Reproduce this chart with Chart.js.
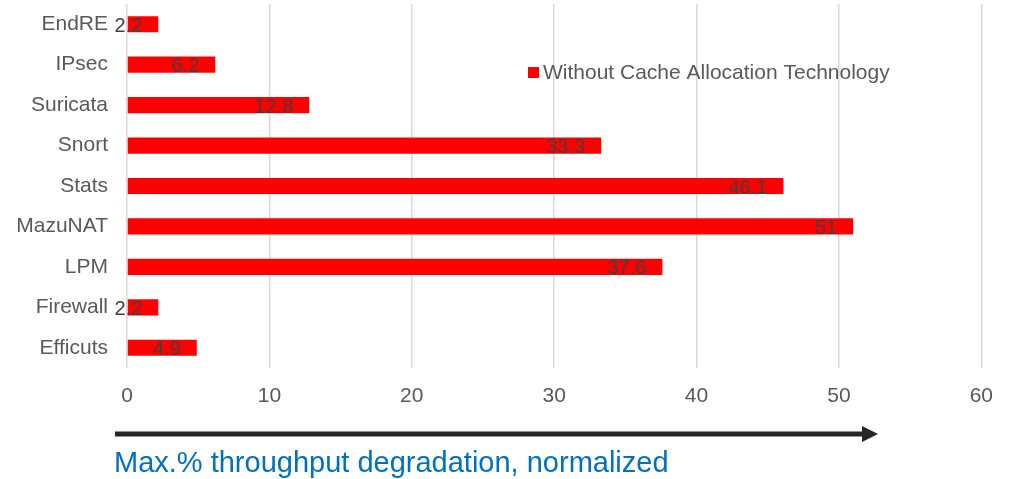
<!DOCTYPE html>
<html>
<head>
<meta charset="utf-8">
<script src="https://cdn.jsdelivr.net/npm/chart.js@4"></script>
<style>
  html, body { margin: 0; padding: 0; background: #fff; }
</style>
</head>
<body>
<canvas id="grafico" width="1009" height="479"></canvas>
<script>

//--------------------------------------------------
// DADOS
//--------------------------------------------------

const categorias = ['EndRE', 'IPsec', 'Suricata', 'Snort', 'Stats', 'MazuNAT', 'LPM', 'Firewall', 'Efficuts'];
const valores    = [2.2, 6.2, 12.8, 33.3, 46.1, 51, 37.6, 2.2, 4.9];
const rotuloSerie = 'Without Cache Allocation Technology';
const ticksX     = [0, 10, 20, 30, 40, 50, 60];
const tituloEixo = 'Max.% throughput degradation, normalized';

const FONTE = '"Liberation Sans", Arial, sans-serif';

//--------------------------------------------------
// PLUGIN: rótulos, legenda, seta e título
//--------------------------------------------------

const extras = {
  id: 'extras',
  afterDatasetsDraw(chart) {
    const { ctx } = chart;
    const meta = chart.getDatasetMeta(0);

    // rótulos de valor (inside end)
    ctx.save();
    ctx.font = '20px ' + FONTE;
    ctx.fillStyle = '#404040';
    ctx.textAlign = 'right';
    ctx.textBaseline = 'middle';
    meta.data.forEach((bar, i) => {
      ctx.fillText(String(valores[i]), bar.x - 16, bar.y + 2);
    });
    ctx.restore();
  },
  afterDraw(chart) {
    const { ctx } = chart;
    ctx.save();

    // legenda
    ctx.fillStyle = '#ff0000';
    ctx.fillRect(528, 67, 11, 11);
    ctx.font = '21px ' + FONTE;
    ctx.fillStyle = '#595959';
    ctx.textAlign = 'left';
    ctx.textBaseline = 'middle';
    ctx.fillText(chart.data.datasets[0].label, 543, 73);

    // seta
    ctx.strokeStyle = '#262626';
    ctx.fillStyle = '#262626';
    ctx.lineWidth = 5;
    ctx.beginPath();
    ctx.moveTo(115, 434);
    ctx.lineTo(864, 434);
    ctx.stroke();
    ctx.beginPath();
    ctx.moveTo(862, 426);
    ctx.lineTo(878, 434);
    ctx.lineTo(862, 442);
    ctx.closePath();
    ctx.fill();

    // título
    ctx.font = '29px ' + FONTE;
    ctx.fillStyle = '#0070c0';
    ctx.textBaseline = 'alphabetic';
    ctx.fillText(tituloEixo, 114, 472);

    ctx.restore();
  }
};

//--------------------------------------------------
// GRÁFICO
//--------------------------------------------------

new Chart(document.getElementById('grafico'), {
  type: 'bar',
  data: {
    labels: categorias,
    datasets: [{
      label: rotuloSerie,
      data: valores,
      backgroundColor: '#ff0000',
      categoryPercentage: 1,
      barPercentage: 0.4
    }]
  },
  options: {
    indexAxis: 'y',
    responsive: false,
    animation: false,
    layout: { padding: { top: 4, right: 23, left: 0, bottom: 0 } },
    plugins: {
      legend: { display: false },
      tooltip: { enabled: false }
    },
    scales: {
      x: {
        min: 0,
        max: 60,
        afterBuildTicks(scale) {
          scale.ticks = ticksX.map(v => ({ value: v }));
        },
        afterFit(scale) { scale.height = 111; },
        grid: { color: '#d9d9d9', lineWidth: 1.5, drawTicks: false },
        border: { display: false },
        ticks: {
          color: '#595959',
          padding: 16,
          font: { family: FONTE, size: 21 }
        }
      },
      y: {
        afterFit(scale) {
          scale.width = 127;
          scale.paddingTop = 0;
          scale.paddingBottom = 0;
        },
        grid: { display: false, drawTicks: false },
        border: { display: false },
        ticks: {
          color: '#595959',
          padding: 19,
          font: { family: FONTE, size: 21 }
        }
      }
    }
  },
  plugins: [extras]
});

</script>
</body>
</html>
